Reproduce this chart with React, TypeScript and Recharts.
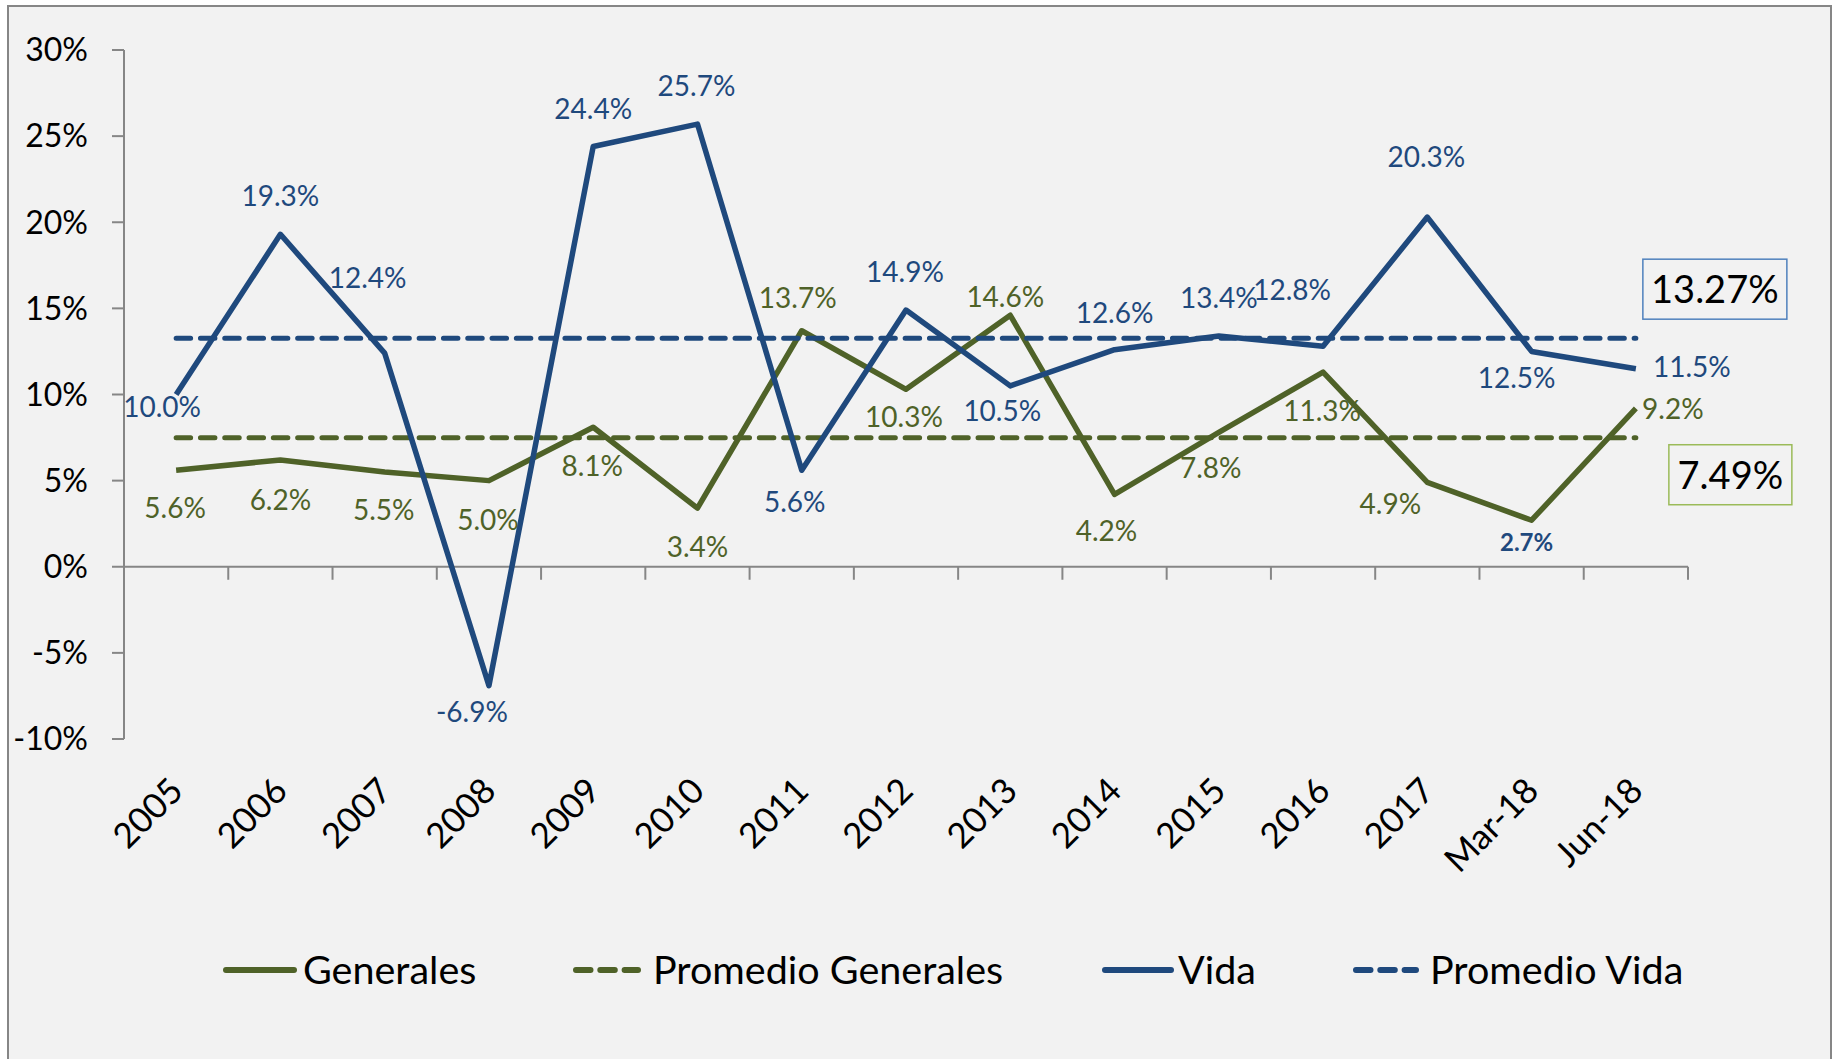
import React from "react";
import {
  LineChart,
  Line,
  XAxis,
  YAxis,
  ReferenceLine,
  LabelList,
  Legend,
} from "recharts";

// chart values
const categories = [
  "2005", "2006", "2007", "2008", "2009", "2010", "2011", "2012",
  "2013", "2014", "2015", "2016", "2017", "Mar-18", "Jun-18",
];
const vida = [10.0, 19.3, 12.4, -6.9, 24.4, 25.7, 5.6, 14.9, 10.5, 12.6, 13.4, 12.8, 20.3, 12.5, 11.5];
const generales = [5.6, 6.2, 5.5, 5.0, 8.1, 3.4, 13.7, 10.3, 14.6, 4.2, 7.8, 11.3, 4.9, 2.7, 9.2];
const promedioVida = 13.27;
const promedioGenerales = 7.49;
const yTicks = [-10, -5, 0, 5, 10, 15, 20, 25, 30];

// label placement (dx, dy from the point to the label centre)
const vidaLabelOffsets = [
  [-14, 12], [0, -38], [-17, -75], [-17, 26], [0, -38], [-1, -38], [-7, 32], [-1, -38],
  [-8, 25], [0, -37], [0, -38], [-31, -56], [-1, -60], [-15, 26], [56, -2],
];
const generalesLabelOffsets = [
  [-1, 38], [0, 40], [-1, 38], [-1, 39], [-1, 39], [0, 39], [-4, -33], [-2, 28],
  [-5, -18], [-8, 37], [-8, 36], [-1, 39], [-37, 22], [-5, 22], [37, 1],
];

const FONT = "Lato, 'Open Sans', sans-serif";
const BLUE = "#1F497D";
const GREEN = "#4F6228";
const AXIS = "#868686";
const DASH = "14.5 9.8";

const data = categories.map((c, i) => ({
  period: c,
  generales: generales[i],
  promGenerales: promedioGenerales,
  vida: vida[i],
  promVida: promedioVida,
}));

function makeValueLabel(offsets: number[][], color: string) {
  return (props: any) => {
    const { x, y, value, index } = props;
    const [dx, dy] = offsets[index];
    // odd one in the original: Mar-18 of Generales is bold and blue
    const odd = color === GREEN && index === 13;
    const size = odd ? 24 : 28;
    return (
      <text
        x={x + dx}
        y={y + dy + size * 0.36}
        textAnchor="middle"
        fontFamily={FONT}
        fontSize={size}
        fontWeight={odd ? 700 : 400}
        fill={odd ? BLUE : color}
      >
        {Number(value).toFixed(1)}%
      </text>
    );
  };
}

function makeAvgBox(dx: number, dy: number, w: number, border: string) {
  return (props: any) => {
    const { x, y, value, index } = props;
    if (index !== categories.length - 1) return null;
    const cx = x + dx;
    const cy = y + dy;
    return (
      <g>
        <rect x={cx - w / 2} y={cy - 30} width={w} height={60} fill="#F2F2F2" stroke={border} strokeWidth={1.5} />
        <text x={cx} y={cy + 14} textAnchor="middle" fontFamily={FONT} fontSize={38} fill="#000">
          {Number(value).toFixed(2)}%
        </text>
      </g>
    );
  };
}

// horizontal axis drawn at 0% with tick marks between categories
function ZeroAxis(props: any) {
  const { x1, x2, y1 } = props;
  const step = (x2 - x1) / categories.length;
  return (
    <g>
      <line x1={x1} x2={x2} y1={y1} y2={y1} stroke={AXIS} strokeWidth={2} />
      {categories.concat([""]).map((_, i) => (
        <line key={i} x1={x1 + step * i} x2={x1 + step * i} y1={y1} y2={y1 + 13} stroke={AXIS} strokeWidth={2} />
      ))}
    </g>
  );
}

function XTick(props: any) {
  const { x, y, payload } = props;
  const ax = x + 9;
  const ay = y + 54;
  return (
    <text
      x={ax}
      y={ay}
      transform={`rotate(-45, ${ax}, ${ay})`}
      textAnchor="end"
      fontFamily={FONT}
      fontSize={35}
      fill="#000"
    >
      {payload.value}
    </text>
  );
}

const legendItems = [
  { name: "Generales", color: GREEN, dashed: false, x1: 217, x2: 285, tx: 294 },
  { name: "Promedio Generales", color: GREEN, dashed: true, x1: 567, x2: 629, tx: 644 },
  { name: "Vida", color: BLUE, dashed: false, x1: 1096, x2: 1162, tx: 1169 },
  { name: "Promedio Vida", color: BLUE, dashed: true, x1: 1347, x2: 1407, tx: 1421 },
];

function LegendContent() {
  return (
    <svg width={1821} height={60}>
      {legendItems.map((it) => (
        <g key={it.name}>
          <line
            x1={it.x1}
            x2={it.x2}
            y1={30}
            y2={30}
            stroke={it.color}
            strokeWidth={6}
            strokeLinecap="round"
            strokeDasharray={it.dashed ? DASH : undefined}
          />
          <text x={it.tx} y={44} fontFamily={FONT} fontSize={39.5} fill="#000">
            {it.name}
          </text>
        </g>
      ))}
    </svg>
  );
}

export default function App() {
  return (
    <div
      style={{
        position: "absolute",
        left: 7,
        top: 5,
        width: 1825,
        height: 1054,
        boxSizing: "border-box",
        border: `2px solid ${AXIS}`,
        borderBottom: "none",
        background: "#F2F2F2",
        overflow: "hidden",
      }}
    >
      <LineChart width={1821} height={1052} data={data} margin={{ top: 43, right: 142, bottom: 319, left: 0 }}>
        <XAxis
          dataKey="period"
          scale="band"
          interval={0}
          height={1}
          axisLine={false}
          tickLine={false}
          tickSize={0}
          tickMargin={0}
          tick={<XTick />}
        />
        <YAxis
          width={115}
          domain={[-10, 30]}
          ticks={yTicks}
          interval={0}
          tickFormatter={(v: number) => `${v}%`}
          axisLine={{ stroke: AXIS, strokeWidth: 2 }}
          tickLine={{ stroke: AXIS, strokeWidth: 2 }}
          tickSize={12}
          tickMargin={24}
          tick={{ fontFamily: FONT, fontSize: 32, fill: "#000" }}
        />
        <ReferenceLine y={0} shape={<ZeroAxis />} />
        <Legend verticalAlign="middle" align="center" wrapperStyle={{ top: 933, left: 0, width: 1821, height: 60 }} content={<LegendContent />} />
        <Line
          dataKey="generales"
          name="Generales"
          stroke={GREEN}
          strokeWidth={5.5}
          strokeLinejoin="round"
          dot={false}
          activeDot={false}
          isAnimationActive={false}
        >
          <LabelList dataKey="generales" content={makeValueLabel(generalesLabelOffsets, GREEN)} />
        </Line>
        <Line
          dataKey="promGenerales"
          name="Promedio Generales"
          stroke={GREEN}
          strokeWidth={5}
          strokeDasharray={DASH}
          strokeLinecap="round"
          dot={false}
          activeDot={false}
          isAnimationActive={false}
        >
          <LabelList dataKey="promGenerales" content={makeAvgBox(94.5, 37, 123, "#9BBB59")} />
        </Line>
        <Line
          dataKey="vida"
          name="Vida"
          stroke={BLUE}
          strokeWidth={5.5}
          strokeLinejoin="round"
          dot={false}
          activeDot={false}
          isAnimationActive={false}
        >
          <LabelList dataKey="vida" content={makeValueLabel(vidaLabelOffsets, BLUE)} />
        </Line>
        <Line
          dataKey="promVida"
          name="Promedio Vida"
          stroke={BLUE}
          strokeWidth={5}
          strokeDasharray={DASH}
          strokeLinecap="round"
          dot={false}
          activeDot={false}
          isAnimationActive={false}
        >
          <LabelList dataKey="promVida" content={makeAvgBox(79, -49, 144, "#4F81BD")} />
        </Line>
      </LineChart>
    </div>
  );
}
